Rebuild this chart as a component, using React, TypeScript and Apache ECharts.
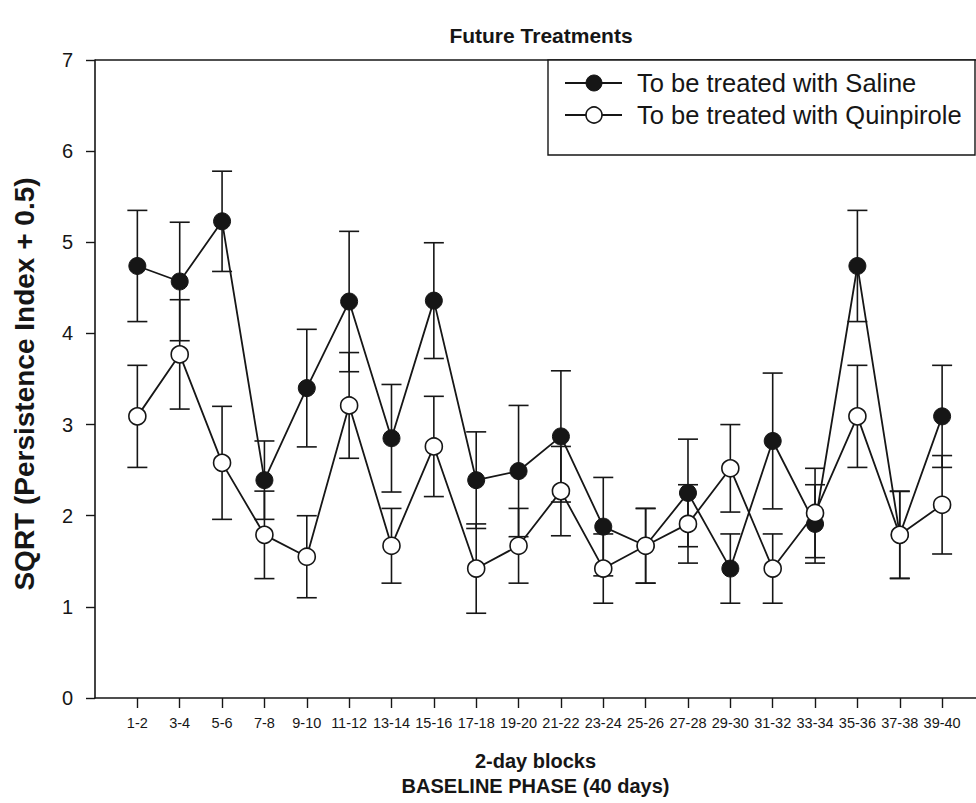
import React, { useEffect, useRef } from "react";
import * as echarts from "echarts";

const blockLabels = ["1-2","3-4","5-6","7-8","9-10","11-12","13-14","15-16","17-18","19-20","21-22","23-24","25-26","27-28","29-30","31-32","33-34","35-36","37-38","39-40"];
const salineMean = [4.74, 4.57, 5.23, 2.39, 3.40, 4.35, 2.85, 4.36, 2.39, 2.49, 2.87, 1.88, 1.67, 2.25, 1.42, 2.82, 1.91, 4.74, 1.79, 3.09];
const salineErr = [0.61, 0.65, 0.55, 0.43, 0.645, 0.77, 0.59, 0.635, 0.53, 0.72, 0.72, 0.54, 0.41, 0.59, 0.38, 0.745, 0.43, 0.61, 0.476, 0.56];
const quinMean = [3.09, 3.77, 2.58, 1.79, 1.55, 3.21, 1.67, 2.76, 1.42, 1.67, 2.27, 1.42, 1.67, 1.91, 2.52, 1.42, 2.03, 3.09, 1.79, 2.12];
const quinErr = [0.56, 0.60, 0.62, 0.48, 0.45, 0.58, 0.41, 0.55, 0.49, 0.41, 0.49, 0.38, 0.41, 0.43, 0.48, 0.38, 0.49, 0.56, 0.48, 0.54];
const yTicks = [0, 1, 2, 3, 4, 5, 6, 7];

const INK = "#161616";
const FONT = "'Liberation Sans', Arial, Helvetica, sans-serif";

export default function App() {
  const ref = useRef<HTMLDivElement>(null);
  useEffect(() => {
    if (!ref.current) return;
    const chart = echarts.init(ref.current, undefined, { renderer: "svg" });
    const positions = blockLabels.map((_, i) => i + 1);
    const errData = (m: number[], e: number[]) => m.map((v, i) => [i + 1, v - e[i], v + e[i]]);
    const renderErr = (params: any, api: any) => {
      const x = api.value(0);
      const lo = api.coord([x, api.value(1)]);
      const hi = api.coord([x, api.value(2)]);
      const cw = 10;
      const st = { stroke: INK, lineWidth: 1.6 };
      return {
        type: "group",
        children: [
          { type: "line", shape: { x1: lo[0], y1: lo[1], x2: hi[0], y2: hi[1] }, style: st },
          { type: "line", shape: { x1: lo[0] - cw, y1: lo[1], x2: lo[0] + cw, y2: lo[1] }, style: st },
          { type: "line", shape: { x1: hi[0] - cw, y1: hi[1], x2: hi[0] + cw, y2: hi[1] }, style: st },
        ],
      };
    };
    const option: any = {
      animation: false,
      backgroundColor: "#ffffff",
      textStyle: { fontFamily: FONT, color: INK },
      title: {
        text: "Future Treatments",
        left: 536,
        top: 20,
        textAlign: "center",
        textStyle: { fontFamily: FONT, fontSize: 21, fontWeight: "bold", color: INK },
      },
      grid: { left: 95, right: 0, top: 60, bottom: 104, containLabel: false },
      xAxis: {
        type: "value",
        min: 0,
        max: 20.8,
        splitLine: { show: false },
        axisLine: { show: true, lineStyle: { color: INK, width: 1.6 } },
        axisTick: { show: true, customValues: positions, length: 10, lineStyle: { color: INK, width: 1.4 } },
        axisLabel: {
          customValues: positions,
          formatter: (v: number) => blockLabels[Math.round(v) - 1] ?? "",
          fontSize: 14.5,
          fontFamily: FONT,
          color: INK,
          margin: 17,
        },
        name: "2-day blocks\nBASELINE PHASE (40 days)",
        nameLocation: "middle",
        nameGap: 50,
        nameTextStyle: { fontFamily: FONT, fontSize: 20, fontWeight: "bold", color: INK, lineHeight: 25 },
      },
      yAxis: {
        type: "value",
        min: 0,
        max: 7,
        interval: 1,
        splitLine: { show: false },
        axisLine: { show: true, lineStyle: { color: INK, width: 1.6 } },
        axisTick: { show: true, length: 9, lineStyle: { color: INK, width: 1.4 } },
        axisLabel: {
          formatter: (v: number) => (yTicks.includes(v) ? String(v) : ""),
          fontSize: 20,
          fontFamily: FONT,
          color: INK,
          margin: 22,
        },
        name: "SQRT (Persistence Index + 0.5)",
        nameLocation: "middle",
        nameGap: 57,
        nameTextStyle: { fontFamily: FONT, fontSize: 28, fontWeight: "bold", color: INK, padding: [0, 10, 0, 0] },
      },
      series: [
        {
          type: "custom",
          name: "Saline error",
          renderItem: renderErr,
          data: errData(salineMean, salineErr),
          z: 1,
          silent: true,
        },
        {
          type: "custom",
          name: "Quinpirole error",
          renderItem: renderErr,
          data: errData(quinMean, quinErr),
          z: 1,
          silent: true,
        },
        {
          type: "line",
          name: "To be treated with Saline",
          data: salineMean.map((v, i) => [i + 1, v]),
          symbol: "circle",
          symbolSize: 17,
          lineStyle: { color: INK, width: 1.8 },
          itemStyle: { color: INK, borderColor: INK, borderWidth: 1 },
          z: 2,
        },
        {
          type: "line",
          name: "To be treated with Quinpirole",
          data: quinMean.map((v, i) => [i + 1, v]),
          symbol: "circle",
          symbolSize: 17,
          lineStyle: { color: INK, width: 1.8 },
          itemStyle: { color: "#ffffff", borderColor: INK, borderWidth: 1.6 },
          z: 3,
        },
      ],
      graphic: [
        { type: "line", shape: { x1: 95, y1: 60, x2: 976, y2: 60 }, style: { stroke: INK, lineWidth: 1.6 }, z: 5 },
        { type: "rect", shape: { x: 548, y: 60, width: 427, height: 95 }, style: { fill: "#ffffff", stroke: INK, lineWidth: 1.4 }, z: 10 },
        { type: "line", shape: { x1: 565, y1: 83, x2: 622, y2: 83 }, style: { stroke: INK, lineWidth: 1.8 }, z: 11 },
        { type: "circle", shape: { cx: 594, cy: 83, r: 8 }, style: { fill: INK, stroke: INK, lineWidth: 1 }, z: 12 },
        { type: "text", x: 637, y: 83, style: { text: "To be treated with Saline", fill: INK, font: `25.5px ${FONT}`, verticalAlign: "middle", align: "left" }, z: 12 },
        { type: "line", shape: { x1: 565, y1: 115, x2: 622, y2: 115 }, style: { stroke: INK, lineWidth: 1.8 }, z: 11 },
        { type: "circle", shape: { cx: 594, cy: 115, r: 8 }, style: { fill: "#ffffff", stroke: INK, lineWidth: 1.6 }, z: 12 },
        { type: "text", x: 637, y: 115, style: { text: "To be treated with Quinpirole", fill: INK, font: `25.5px ${FONT}`, verticalAlign: "middle", align: "left" }, z: 12 },
      ],
    };
    chart.setOption(option);
    return () => chart.dispose();
  }, []);
  return (
    <div
      ref={ref}
      style={{ position: "fixed", left: 0, top: 0, width: 976, height: 803, background: "#fff" }}
    />
  );
}
